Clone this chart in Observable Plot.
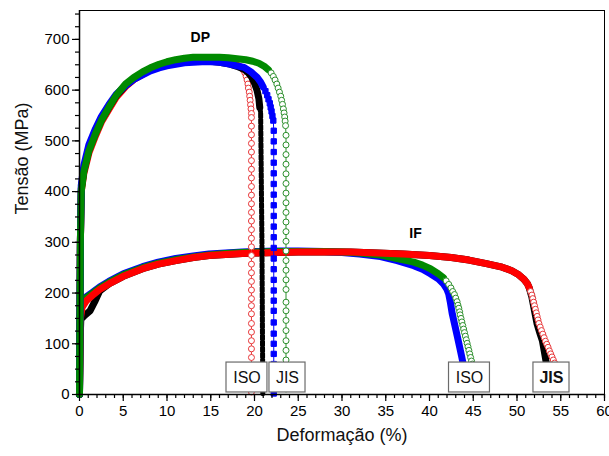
<!DOCTYPE html>
<html><head><meta charset="utf-8">
<script src="https://cdn.jsdelivr.net/npm/d3@7"></script>
<script src="https://cdn.jsdelivr.net/npm/@observablehq/plot@0.6"></script>
<style>body{margin:0;background:#fff;}</style>
</head><body><div id="chart"></div>
<script>
// ---------- DATA (strain %, stress MPa) ----------
// DP steel, ISO samples (red open circles, black filled squares)
const dpRedBand = [[0,0],[0.05,150],[0.1,300],[0.2,400],[0.5,436],[1.07,476],[1.83,510],[2.5,537],[3.35,562],[4.2,586],[5.26,607],[6.2,621],[7.2,631],[8.1,640],[9.1,647],[10,651],[11,655],[12,657],[13,659],[14,659],[15,659],[16,657],[17,654],[17.8,651],[18.4,646]];
const dpRedBend = [[18.7,640],[18.9,634],[19.05,627],[19.15,620],[19.25,612],[19.3,604],[19.4,596],[19.45,588],[19.5,580],[19.55,571],[19.6,563],[19.65,554],[19.65,546]];
const dpRedFallX = 19.65;
const dpRedFallY = [529,512,495,478,461,444,427,410,393,376,359,342,325,308,291,274,257,240,223,206,189,175,159,140,123,106,90,73,56,39,22,5];

const dpBlackBand = [[0,0],[0.05,150],[0.1,300],[0.2,405],[0.5,442],[1.07,482],[1.83,516],[2.5,541],[3.35,566],[4.2,589],[5.26,609],[6.2,622],[7.2,632],[8.1,641],[9.1,647],[10,651],[11,654],[12,656],[13,657],[14,657],[15,657],[16,655],[17,652],[18,647],[18.8,641],[19.3,634],[19.7,625],[20.0,614],[20.3,599],[20.5,583],[20.6,566]];
const dpBlackFall = [[20.7,556],[20.85,300],[20.95,0]];

// DP steel, JIS samples (blue filled squares, green open circles)
const dpBlueBand = [[0,0],[0.05,150],[0.1,300],[0.2,412],[0.5,452],[1.07,492],[1.83,524],[2.5,548],[3.35,571],[4.2,592],[5.26,609],[6.2,621],[7.2,630],[8.1,638],[9.1,644],[10,648],[11,651],[12,654],[13,655],[14,656],[15,656],[16,655],[17,652],[18,648],[18.8,645],[19.6,636],[20.3,625],[20.7,616],[21.0,606]];
const dpBlueBend = [[21.25,598],[21.45,590],[21.6,582],[21.75,574],[21.85,566],[21.95,558],[22.05,549],[22.15,540]];
const dpBlueFallX = 22.2;
const dpBlueFallY = [520,499,478,457,436,415,394,373,352,331,310,289,268,247,226,205,185,165,142,120,100,80,60,40,20,2];

const dpGreenBand = [[0,0],[0.05,150],[0.1,300],[0.2,400],[0.5,440],[1.07,480],[1.83,514],[2.5,540],[3.35,566],[4.2,590],[5.26,612],[6.2,625],[7.2,636],[8.1,644],[9.1,651],[10,656],[11,660],[12,663],[13,665],[14,665],[15,665],[16,665],[17,664],[18,662],[19,660],[19.8,657],[20.5,653],[21.2,646],[21.6,640]];
const dpGreenBend = [[21.9,634],[22.15,627],[22.35,620],[22.55,612],[22.7,604],[22.85,596],[23.0,588],[23.1,580],[23.2,572],[23.3,563],[23.38,555],[23.45,547],[23.5,539],[23.55,530]];
const dpGreenFallX = 23.6;
const dpGreenFallY = [511,492,473,454,435,416,397,378,359,340,321,302,283,264,245,226,207,182,165,146,126,106,87,68,49,30,11];

// IF steel, ISO samples (blue filled squares, green open circles)
const ifBlueBand = [[0,0],[0.05,100],[0.1,160],[0.3,182],[0.8,193],[1.45,201],[2.3,212],[3.35,223],[5,238],[7.2,252],[9,261],[11,268],[13,273],[14.8,277],[16.7,279],[18.6,281],[20.5,282],[22.4,283],[25,283],[28,282],[30,280],[32,277],[34.4,272],[36.3,264],[38.2,254],[39.2,247],[40.1,238],[41,228],[41.6,218],[42,207],[42.2,198],[42.4,180],[42.6,159],[42.9,136],[43.2,113],[43.45,93],[43.7,73],[43.85,60]];
const ifGreenBand = [[0,0],[0.05,100],[0.1,158],[0.3,180],[0.8,191],[1.45,199],[2.3,210],[3.35,221],[5,236],[7.2,250],[9,259],[11,266],[13,271],[14.8,275],[16.7,278],[18.6,280],[20.5,281],[22.4,282],[25,282],[28,282],[30,281],[32,279],[34.4,275],[36.3,268],[38.2,261],[39.2,255],[40.1,248],[41,238],[41.6,230]];
const ifGreenBend = [[41.9,224],[42.2,217],[42.45,210],[42.65,203],[42.85,197],[43.0,190],[43.15,183],[43.25,176],[43.35,170],[43.45,163],[43.5,157],[43.6,150],[43.7,143],[43.8,136],[43.9,129],[44.0,122],[44.1,115],[44.2,108],[44.3,101],[44.4,94],[44.5,87],[44.6,80],[44.7,73],[44.8,66],[44.9,60]];

// IF steel, JIS samples (black filled squares, red open circles)
const ifBlackBand = [[0,0],[0.05,100],[0.15,148],[0.6,156],[1.2,165],[1.8,185],[2.3,204],[3.35,218],[5,233],[7.2,248],[9,257],[11,264],[13,270],[14.8,274],[16.7,276],[18.6,278],[20.5,279],[22.4,280],[25,281],[28,281],[31,281],[34,279],[37,277],[40,274],[42.5,270],[44.5,265],[46.5,258],[48.3,251],[49.4,244],[50.2,236],[50.8,227],[51.2,218],[51.4,210],[51.7,192],[52.0,165],[52.3,139],[52.6,122],[52.9,106],[53.1,87],[53.3,67],[53.4,55]];
const ifRedBand = [[0,12],[0.05,100],[0.1,150],[0.3,172],[0.8,185],[1.45,195],[2.3,207],[3.35,218],[5,233],[7.2,248],[9,257],[11,264],[13,270],[14.8,274],[16.7,276],[18.6,278],[20.5,279],[22.4,280],[25,281],[28,281],[31,281],[34,279],[37,277],[40,274],[42.5,270],[44.5,265],[46.5,258],[48.3,251],[49.4,244],[50.2,236],[50.8,227],[51.2,218],[51.4,210]];
const ifRedBend = [[51.55,203],[51.7,196],[51.8,189],[51.9,182],[52.0,175],[52.1,168],[52.2,161],[52.3,154],[52.4,147],[52.5,140],[52.65,133],[52.8,126],[52.95,119],[53.1,112],[53.25,105],[53.4,99],[53.55,93],[53.7,86],[53.85,80],[54.0,74],[54.15,68],[54.3,62],[54.4,56]];

// annotations
const groupLabels = ["DP", "IF"];
const groupLabelX = [13.8, 38.4];
const groupLabelY = [703, 317];
const boxLabels = ["ISO", "JIS", "ISO", "JIS"];
const boxCenterX = [19.14, 23.77, 44.57, 53.94];

const xTicks = d3.range(0, 61, 5);
const yTicks = d3.range(0, 701, 100);

// ---------- BUILD ----------
const P = a => a.map(([x, y]) => ({x, y}));
const fallPts = (x, ys) => ys.map(y => ({x, y}));

const RED = "#ff0000", BLACK = "#000000", BLUE = "#0000ff", GREEN = "#008a00";
const TAILRED = "#e8383a", TAILGREEN = "#2c8f2c";

function seriesMarks(band, tail, color, tailColor, symbol, filled) {
  const b = P(band);
  const marks = [Plot.line(b, {x: "x", y: "y", stroke: color, strokeWidth: 7, strokeLinejoin: "round", strokeLinecap: "round"})];
  if (tail && tail.length) {
    marks.push(Plot.line([b[b.length - 1], ...tail], {x: "x", y: "y", stroke: tailColor, strokeWidth: 1}));
    marks.push(Plot.dot(tail, {x: "x", y: "y", symbol, r: 3, fill: filled ? tailColor : "white", stroke: tailColor, strokeWidth: 1}));
  }
  return marks;
}

const boxes = boxLabels.map((t, i) => {
  const hw = t === "ISO" ? 2.34 : 2.06;
  return {x1: boxCenterX[i] - hw, x2: boxCenterX[i] + hw, x: boxCenterX[i], t, bold: i === 3};
});

const chart = Plot.plot({
  width: 609, height: 456,
  marginLeft: 79, marginRight: 5, marginTop: 10, marginBottom: 62,
  x: {domain: [0, 60], label: null},
  y: {domain: [0, 757], label: null},
  style: {fontFamily: "'Liberation Sans', Arial, sans-serif", fontSize: "14px", background: "white", color: "#000"},
  marks: [
    // IF
    ...seriesMarks(ifBlackBand, null, BLACK, BLACK, "square", true),
    ...seriesMarks(ifBlueBand, null, BLUE, BLUE, "square", true),
    ...seriesMarks(ifGreenBand, P(ifGreenBend), GREEN, TAILGREEN, "circle", false),
    ...seriesMarks(ifRedBand, P(ifRedBend), RED, TAILRED, "circle", false),
    // DP
    ...seriesMarks(dpRedBand, [...P(dpRedBend), ...fallPts(dpRedFallX, dpRedFallY)], RED, TAILRED, "circle", false),
    ...seriesMarks(dpBlackBand, null, BLACK, BLACK, "square", true),
    Plot.line([P(dpBlackBand).at(-1), ...P(dpBlackFall)], {x: "x", y: "y", stroke: BLACK, strokeWidth: 5, strokeDasharray: "4.5,1.5"}),
    ...seriesMarks(dpBlueBand, [...P(dpBlueBend), ...fallPts(dpBlueFallX, dpBlueFallY)], BLUE, BLUE, "square", true),
    ...seriesMarks(dpGreenBand, [...P(dpGreenBend), ...fallPts(dpGreenFallX, dpGreenFallY)], GREEN, TAILGREEN, "circle", false),
    // annotation boxes
    Plot.rect(boxes, {x1: "x1", x2: "x2", y1: 4, y2: 63, fill: "white", stroke: "#6b6b6b", strokeWidth: 1.2}),
    Plot.text(boxes.filter(d => !d.bold), {x: "x", y: 33, text: "t", fontSize: 16, fill: "#111"}),
    Plot.text(boxes.filter(d => d.bold), {x: "x", y: 33, text: "t", fontSize: 16, fontWeight: "bold", fill: "#111"}),
    Plot.text(groupLabels, {x: (d, i) => groupLabelX[i], y: (d, i) => groupLabelY[i], text: d => d, fontSize: 14, fontWeight: "bold", fill: "#000"}),
    // axes
    Plot.frame({stroke: "#000", strokeWidth: 1}),
    Plot.axisX({ticks: d3.range(0, 61, 1), tickSize: 4, text: null, label: null, strokeWidth: 1.2}),
    Plot.axisX({ticks: xTicks, tickSize: 7, tickPadding: 4, fontSize: 15, label: null, strokeWidth: 1.2}),
    Plot.axisY({ticks: d3.range(0, 751, 25), tickSize: 4, text: null, label: null, strokeWidth: 1.2}),
    Plot.axisY({ticks: yTicks, tickSize: 7, tickPadding: 3, fontSize: 15, label: null, strokeWidth: 1.2}),
    Plot.ruleX([0], {strokeWidth: 1.5}),
    Plot.ruleY([0], {strokeWidth: 1.5}),
    Plot.text(["Tensão (MPa)"], {frameAnchor: "left", dx: -57, dy: 12, rotate: -90, fontSize: 18, fill: "#111"}),
    Plot.text(["Deformação (%)"], {frameAnchor: "bottom", dy: 46, fontSize: 18, fill: "#111"})
  ]
});
document.getElementById("chart").appendChild(chart);
</script>
</body></html>
